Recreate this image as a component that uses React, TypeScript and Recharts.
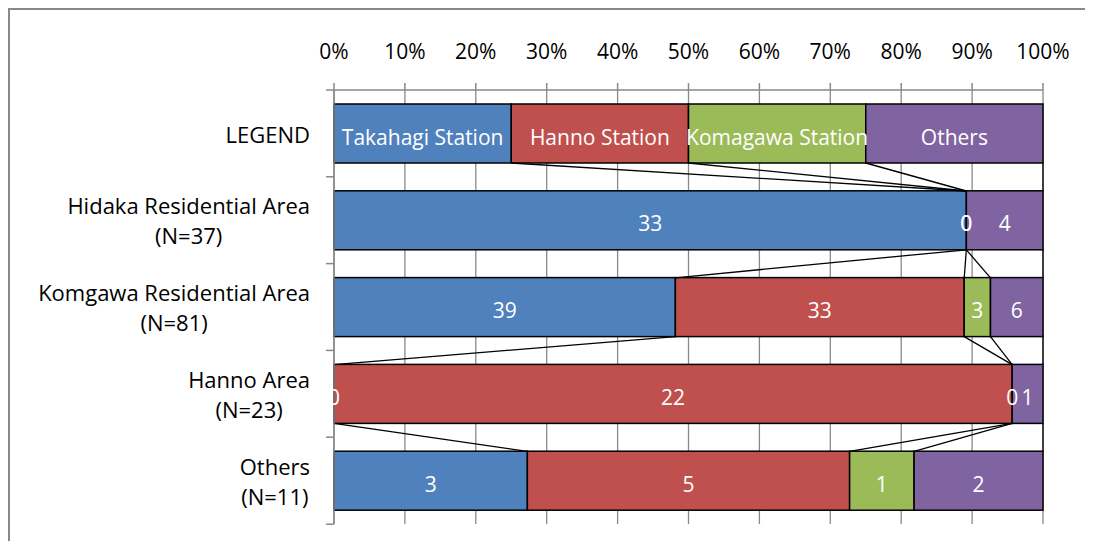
import React from 'react';
import { BarChart, Bar, XAxis, YAxis, CartesianGrid, LabelList } from 'recharts';

const categories = ['LEGEND', 'Hidaka Residential Area', 'Komgawa Residential Area', 'Hanno Area', 'Others'];
const sampleSizes = ['', '(N=37)', '(N=81)', '(N=23)', '(N=11)'];
const seriesNames = ['Takahagi Station', 'Hanno Station', 'Komagawa Station', 'Others'];
const seriesColors = ['#4F81BD', '#C0504D', '#9BBB59', '#8064A2'];
const takahagiStation = [1, 33, 39, 0, 3];
const hannoStation = [1, 0, 33, 22, 5];
const komagawaStation = [1, 0, 3, 0, 1];
const othersDestination = [1, 4, 6, 1, 2];
const xTicks = [0, 0.1, 0.2, 0.3, 0.4, 0.5, 0.6, 0.7, 0.8, 0.9, 1];

const seriesValues = [takahagiStation, hannoStation, komagawaStation, othersDestination];
const seriesKeys = ['s0', 's1', 's2', 's3'];

const data = categories.map((cat, i) => {
  const row: any = { cat };
  seriesKeys.forEach((k, s) => {
    row[k] = seriesValues[s][i];
  });
  return row;
});

const cumEnds = categories.map((_, i) => {
  const total = seriesValues.reduce((a, v) => a + v[i], 0);
  let acc = 0;
  return seriesValues.map((v) => {
    acc += v[i];
    return acc / total;
  });
});

const FONT = '"Open Sans", sans-serif';
const FS = 21;
const YFS = 22;
const GRAY = '#898989';
const GAP = 14;

let measureCtx: CanvasRenderingContext2D | null = null;
function textWidth(t: string): number {
  try {
    if (!measureCtx) {
      const c = document.createElement('canvas');
      measureCtx = c.getContext('2d');
    }
    if (measureCtx) {
      measureCtx.font = `${YFS}px "Open Sans"`;
      return measureCtx.measureText(t).width;
    }
  } catch (e) {}
  return t.length * YFS * 0.5;
}

const makeShape = (k: number) => (props: any) => {
  const { x, y, width, height, index } = props;
  const els: any[] = [];
  if (width > 0) {
    els.push(
      <rect key="r" x={x} y={y} width={width} height={height} fill={seriesColors[k]} stroke="#000" strokeWidth={1.5} />
    );
  }
  if (k === seriesKeys.length - 1) {
    const frac = cumEnds[index][k] - (k > 0 ? cumEnds[index][k - 1] : 0);
    const W = width / frac;
    const left = x + width - W;
    const nextTop = y + height + 2 * GAP;
    if (index < categories.length - 1) {
      for (let s = 0; s < seriesKeys.length; s++) {
        els.push(
          <line
            key={'sl' + s}
            x1={left + W * cumEnds[index][s]}
            y1={y + height}
            x2={left + W * cumEnds[index + 1][s]}
            y2={nextTop}
            stroke="#000"
            strokeWidth={1.3}
          />
        );
      }
    }
    els.push(<line key="t1" x1={left - 8} x2={left} y1={y - GAP} y2={y - GAP} stroke={GRAY} strokeWidth={1.5} />);
    if (index === categories.length - 1) {
      els.push(
        <line key="t2" x1={left - 8} x2={left} y1={y + height + GAP} y2={y + height + GAP} stroke={GRAY} strokeWidth={1.5} />
      );
    }
  }
  return <g>{els}</g>;
};

const makeLabel = (k: number) => (props: any) => {
  const vb = props.viewBox || props;
  const x = props.x ?? vb.x;
  const y = props.y ?? vb.y;
  const width = props.width ?? vb.width;
  const height = props.height ?? vb.height;
  const index = props.index;
  const text = index === 0 ? seriesNames[k] : String(seriesValues[k][index]);
  return (
    <text x={x + width / 2} y={y + height / 2 + 11} textAnchor="middle" fill="#fff" fontSize={FS} fontFamily={FONT}>
      {text}
    </text>
  );
};

const YTick = (props: any) => {
  const { x, y, payload } = props;
  const i = payload && payload.index != null ? payload.index : props.index;
  const name = categories[i];
  const n = sampleSizes[i];
  const right = x - 24;
  if (!n) {
    return (
      <text x={right} y={y + 10} textAnchor="end" fill="#000" fontSize={YFS} fontFamily={FONT}>
        {name}
      </text>
    );
  }
  const w = Math.max(textWidth(name), textWidth(n));
  const cx = right - w / 2;
  return (
    <g>
      <text x={cx} y={y - 6} textAnchor="middle" fill="#000" fontSize={YFS} fontFamily={FONT}>
        {name}
      </text>
      <text x={cx} y={y + 24} textAnchor="middle" fill="#000" fontSize={YFS} fontFamily={FONT}>
        {n}
      </text>
    </g>
  );
};

export default function App() {
  return (
    <div
      style={{
        marginRight: -8,
        marginBottom: -8,
        height: 541,
        boxSizing: 'border-box',
        borderLeft: `2px solid ${GRAY}`,
        borderTop: `2px solid ${GRAY}`,
        background: '#fff',
      }}
    >
      <BarChart
        width={1075}
        height={530}
        data={data}
        layout="vertical"
        stackOffset="expand"
        barCategoryGap={GAP}
        margin={{ top: 0, right: 42, bottom: 16, left: 0 }}
      >
        <CartesianGrid horizontal={false} vertical={true} stroke={GRAY} strokeWidth={1.3} />
        <XAxis
          type="number"
          orientation="top"
          domain={[0, 1]}
          ticks={xTicks}
          tickFormatter={(v: number) => `${Math.round(v * 100)}%`}
          height={80}
          tickSize={7}
          tickMargin={24}
          axisLine={{ stroke: GRAY, strokeWidth: 1.5 }}
          tickLine={{ stroke: GRAY, strokeWidth: 1.5 }}
          tick={{ fill: '#000', fontSize: FS, fontFamily: FONT }}
          interval={0}
        />
        <YAxis
          type="category"
          dataKey="cat"
          width={324}
          tickSize={0}
          tickMargin={0}
          tickLine={false}
          axisLine={{ stroke: GRAY, strokeWidth: 1.5 }}
          tick={<YTick />}
          interval={0}
        />
        {seriesKeys.map((key, k) => (
          <Bar key={key} dataKey={key} stackId="a" isAnimationActive={false} shape={makeShape(k)}>
            <LabelList dataKey={key} content={makeLabel(k)} />
          </Bar>
        ))}
      </BarChart>
    </div>
  );
}
